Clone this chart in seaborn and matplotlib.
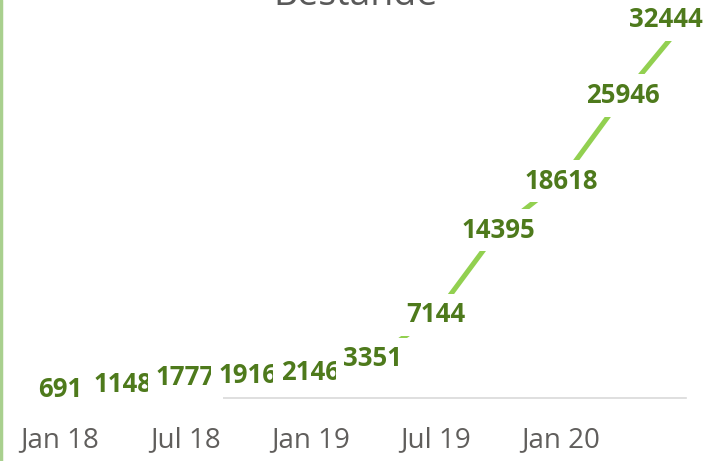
import seaborn as sns
import matplotlib.pyplot as plt
import pandas as pd

quarters = ["Jan 18", "Apr 18", "Jul 18", "Okt 18", "Jan 19", "Apr 19",
            "Jul 19", "Okt 19", "Jan 20", "Apr 20", "Jul 20"]
bestand = [691, 1148, 1777, 1916, 2146, 3351, 7144, 14395, 18618, 25946, 32444]
tick_labels = ["Jan 18", "Jul 18", "Jan 19", "Jul 19", "Jan 20"]

df = pd.DataFrame({"idx": range(len(quarters)), "bestand": bestand})

sns.set_style("white")
plt.rcParams["font.family"] = ["Open Sans", "DejaVu Sans"]

fig = plt.figure(figsize=(7.1, 4.61), dpi=100)
ax = fig.add_axes([60 / 710, 63 / 461, 626 / 710, 398 / 461])

sns.lineplot(data=df, x="idx", y="bestand", color="#92D050", linewidth=3.6, ax=ax)

ax.set_xlim(0, len(quarters) - 1)
ax.set_ylim(0, 34160)
ax.set_xticks([quarters.index(t) for t in tick_labels])
ax.set_xticklabels(tick_labels, fontsize=20, color="#605E5C")
ax.tick_params(axis="x", length=0, pad=20)
ax.set_yticks([])
ax.set_xlabel("")
ax.set_ylabel("")
for s in ["top", "left", "right"]:
    ax.spines[s].set_visible(False)
ax.spines["bottom"].set_color("#D9D9D9")
ax.spines["bottom"].set_linewidth(1.2)

# data labels, centred on the points with white boxes
for i, v in enumerate(bestand):
    dx = -20 if i == len(bestand) - 1 else 0
    ax.annotate(str(v), (i, v), xytext=(dx, 0), textcoords="offset pixels",
                ha="center", va="center", fontsize=18.5, fontweight="bold",
                color="#4E7A1C", annotation_clip=False,
                bbox=dict(boxstyle="square,pad=0.3", fc="white", ec="none"))

fig.text(356 / 710, 1 - 5 / 461, "Bestände", ha="center", va="baseline",
         fontsize=27, color="#595959")

# thin green frame edge on the left
fig.add_artist(plt.Line2D([0.002, 0.002], [0, 1], transform=fig.transFigure,
                          color="#A9D08E", linewidth=2.5))

fig.savefig("out.png", dpi=100)
